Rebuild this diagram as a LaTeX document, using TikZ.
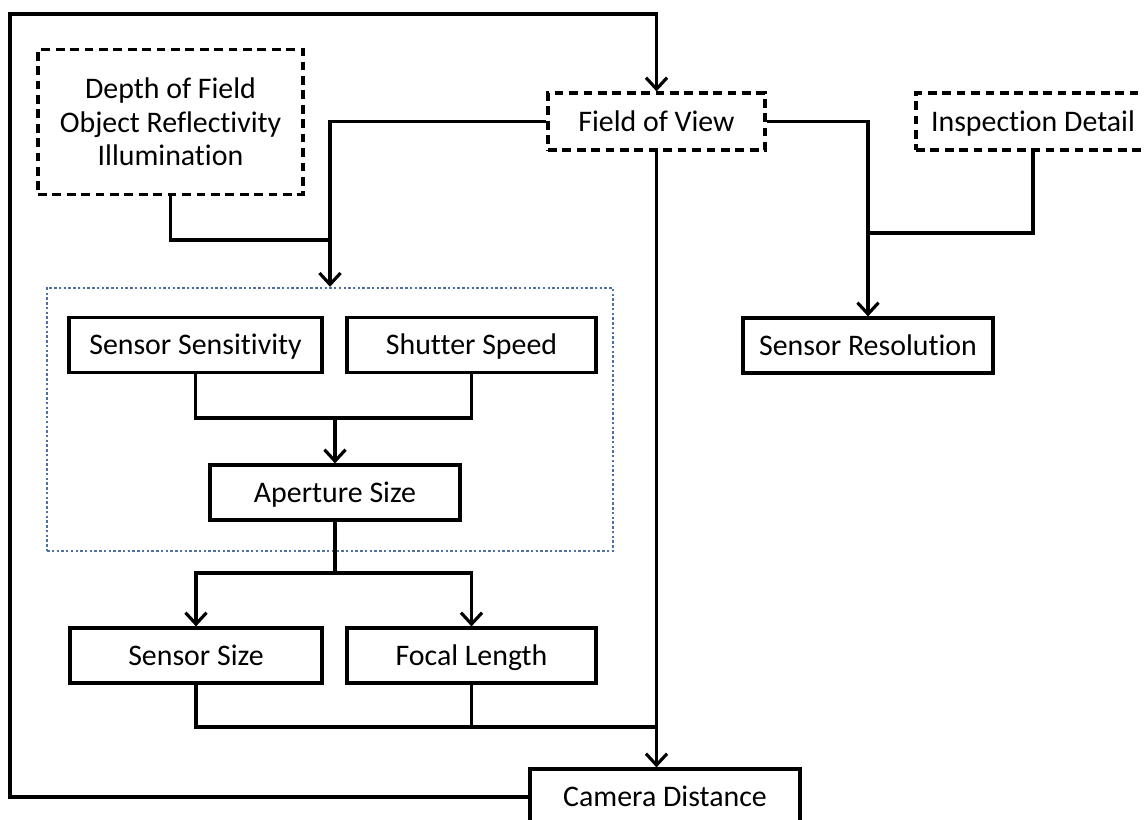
\documentclass[tikz,border=0pt]{standalone}
\usepackage{fontspec}
\setmainfont[Ligatures={NoCommon,NoRequired,NoContextual}]{Carlito}
\usepackage{tikz}
\usetikzlibrary{arrows.meta,positioning}
\definecolor{grpblue}{RGB}{79,112,163}
\tikzstyle{arrow} = [-{Straight Barb[length=6.5pt,width=12pt]}]
\tikzset{
 box/.style
  = {rectangle, draw, text centered, minimum width=5cm, minimum height=1.1cm,
     inner sep=0pt, text height=14pt, text depth=3pt,
     font=\fontsize{17}{19}\selectfont},
 dbox/.style
  = {box, dash pattern=on 5pt off 3.2pt},
 grp/.style
  = {rectangle, draw=grpblue, line width=1.4pt, dash pattern=on 1.4pt off 1.3pt,
     inner sep=0pt},
}
\begin{document}
\begin{tikzpicture}[x=0.02cm, y=-0.02cm, line width=1.8pt]
\useasboundingbox (0,0) rectangle (1144,820);

% Inputs
\node[dbox, minimum width=5.3cm, minimum height=2.9cm, align=center,
      text height=, text depth=] (depth) at (170.5,122)
  {Depth of Field\\Object Reflectivity\\Illumination};
\node[dbox, minimum width=4.34cm, minimum height=1.14cm] (fov) at (656.5,121.5) {Field of View};
\node[dbox, minimum width=4.68cm, minimum height=1.14cm] (insp) at (1033,121.5) {Inspection Detail};

% Sensor Resolution
\node[box] (sres) at (868,345.5) {Sensor Resolution};

% Exposure group
\node[grp, minimum width=11.32cm, minimum height=5.26cm] (grp) at (330,419.5) {};
\node[box, minimum width=5.06cm] (sens) at (195.5,345) {Sensor Sensitivity};
\node[box, minimum width=4.98cm] (shut) at (471.5,345) {Shutter Speed};
\node[box] (aper) at (335,492.5) {Aperture Size};

% Optics
\node[box, minimum width=5.04cm] (ssize) at (196,655.5) {Sensor Size};
\node[box, minimum width=4.98cm] (focal) at (471.5,655.5) {Focal Length};
\node[box, minimum width=5.4cm, minimum height=1.12cm] (cam) at (665,797) {Camera Distance};

% Junctions
\coordinate (tl) at (10,14);
\coordinate (ja) at (330,240);
\coordinate (jb) at (868,233);
\coordinate (jc) at (335,418);
\coordinate (jd) at (335,573);
\coordinate (je) at (656.5,727);

% Feedback loop
\draw[arrow] (cam.west) -| (tl) -| (fov.north);

% Into the group
\draw (depth.south) |- (ja);
\draw[arrow] (fov.west) -| (grp.north);

% Resolution
\draw[arrow] (fov.east) -| (sres.north);
\draw (insp.south) |- (jb);

% Aperture
\draw (sens.south) |- (jc) -| (shut.south);
\draw[arrow] (jc) -- (aper.north);
\draw (aper.south) -- (jd);
\draw[arrow] (jd) -| (ssize.north);
\draw[arrow] (jd) -| (focal.north);

% Camera Distance
\draw (ssize.south) |- (je);
\draw (focal.south) -- (focal.south |- je);
\draw[arrow] (fov.south) -- (fov.south |- cam.north);

\end{tikzpicture}
\end{document}
